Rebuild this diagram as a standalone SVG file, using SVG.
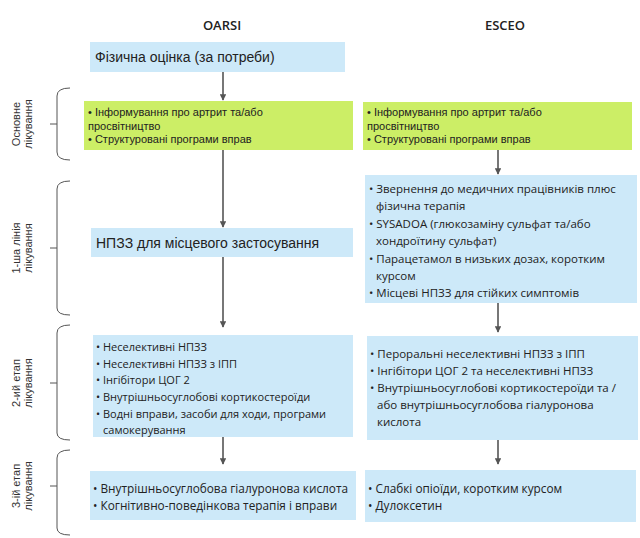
<svg xmlns="http://www.w3.org/2000/svg" width="640" height="538" viewBox="0 0 640 538">
<style>
text{font-family:"Liberation Sans",Arial,sans-serif;fill:#222}
.h{font-family:"Open Sans","DejaVu Sans",sans-serif;font-size:13px;font-weight:600;text-anchor:middle}
.b{fill:#cde9f9}.g{fill:#ccee66}
.t{font-size:11px}.s{font-family:"Open Sans","DejaVu Sans",sans-serif;font-size:11.5px}
.s2{font-family:"Open Sans","DejaVu Sans",sans-serif;font-size:11px}
.s3{font-family:"Open Sans","DejaVu Sans",sans-serif;font-size:11.8px}
.big{font-size:14px}
.lab{font-size:11px;text-anchor:middle;fill:#333}
.br{fill:none;stroke:#555;stroke-width:1}
.c line{stroke:#555;stroke-width:1.6;marker-end:url(#a)}
</style>
<defs><marker id="a" viewBox="0 0 10 10" refX="9" refY="5" markerWidth="4" markerHeight="4" orient="auto"><path d="M0,0L10,5L0,10z" fill="#555"/></marker></defs>
<text class="h" x="222" y="30">OARSI</text>
<text class="h" x="505" y="30">ESCEO</text>
<g id="brackets">
<path class="br" d="M70,88 Q57,88 57,96 V152 Q57,160 70,160 M50,124 H57"/>
<text class="lab" transform="translate(20,124) rotate(-90)">Основне</text>
<text class="lab" transform="translate(32,124) rotate(-90)">лікування</text>
<path class="br" d="M70,181 Q57,181 57,189 V308 Q57,315 70,315 M50,248 H57"/>
<text class="lab" transform="translate(20,248) rotate(-90)">1-ша лінія</text>
<text class="lab" transform="translate(32,248) rotate(-90)">лікування</text>
<path class="br" d="M70,325 Q57,325 57,333 V433 Q57,440 70,440 M50,383 H57"/>
<text class="lab" transform="translate(20,383) rotate(-90)">2-ий етап</text>
<text class="lab" transform="translate(32,383) rotate(-90)">лікування</text>
<path class="br" d="M70,450 Q57,450 57,458 V528 Q57,535 70,535 M50,486 H57"/>
<text class="lab" transform="translate(20,486) rotate(-90)">3-ій етап</text>
<text class="lab" transform="translate(32,486) rotate(-90)">лікування</text>
</g>
<g class="c">
<line x1="223" y1="72" x2="223" y2="100"/>
<line x1="223" y1="150" x2="223" y2="227"/>
<line x1="223" y1="257" x2="223" y2="327"/>
<line x1="223" y1="437" x2="223" y2="464"/>
<line x1="498" y1="150" x2="498" y2="174"/>
<line x1="498" y1="303" x2="498" y2="332"/>
<line x1="498" y1="440" x2="498" y2="464"/>
</g>
<g id="o0"><rect class="b" x="90" y="42" width="255" height="30"/><text class="big" x="95" y="62">Фізична оцінка (за потреби)</text></g>
<g id="o1"><rect class="g" x="84" y="101" width="269" height="49"/>
<text class="t" x="88" y="116">• Інформування про артрит та/або</text><text class="t" x="88" y="130">просвітництво</text><text class="t" x="88" y="143">• Структуровані програми вправ</text></g>
<g id="e1"><rect class="g" x="363" y="102" width="269" height="48"/>
<text class="t" x="367" y="116">• Інформування про артрит та/або</text><text class="t" x="367" y="130">просвітництво</text><text class="t" x="367" y="143">• Структуровані програми вправ</text></g>
<g id="o2"><rect class="b" x="91" y="228" width="262" height="29"/><text class="big" x="96" y="248">НПЗЗ для місцевого застосування</text></g>
<g id="e2"><rect class="b" x="365" y="175" width="272" height="128"/>
<text class="s" x="369" y="193">• Звернення до медичних працівників плюс</text>
<text class="s" x="376" y="210">фізична терапія</text>
<text class="s" x="369" y="228">• SYSADOA (глюкозаміну сульфат та/або</text>
<text class="s" x="376" y="245">хондроїтину сульфат)</text>
<text class="s" x="369" y="263">• Парацетамол в низьких дозах, коротким</text>
<text class="s" x="376" y="280">курсом</text>
<text class="s" x="369" y="297">• Місцеві НПЗЗ для стійких симптомів</text></g>
<g id="o3"><rect class="b" x="93" y="335" width="260" height="102"/>
<text class="s2" x="96" y="351">• Неселективні НПЗЗ</text>
<text class="s2" x="96" y="368">• Неселективні НПЗЗ з ІПП</text>
<text class="s2" x="96" y="384">• Інгібітори ЦОГ 2</text>
<text class="s2" x="96" y="401">• Внутрішньосуглобові кортикостероїди</text>
<text class="s2" x="96" y="418">• Водні вправи, засоби для ходи, програми</text>
<text class="s2" x="103" y="434">самокерування</text></g>
<g id="e3"><rect class="b" x="367" y="336" width="271" height="104"/>
<text class="s" x="370" y="358">• Пероральні неселективні НПЗЗ з ІПП</text>
<text class="s" x="370" y="375">• Інгібітори ЦОГ 2 та неселективні НПЗЗ</text>
<text class="s" x="370" y="392">• Внутрішньосуглобові кортикостероїди та /</text>
<text class="s" x="377" y="409">або внутрішньосуглобова гіалуронова</text>
<text class="s" x="377" y="426">кислота</text></g>
<g id="o4"><rect class="b" x="90" y="471" width="266" height="49"/>
<text class="s3" x="93" y="493">• Внутрішньосуглобова гіалуронова кислота</text>
<text class="s3" x="93" y="510">• Когнітивно-поведінкова терапія і вправи</text></g>
<g id="e4"><rect class="b" x="365" y="470" width="271" height="52"/>
<text class="s3" x="368" y="493">• Слабкі опіоїди, коротким курсом</text>
<text class="s3" x="368" y="510">• Дулоксетин</text></g>
</svg>
